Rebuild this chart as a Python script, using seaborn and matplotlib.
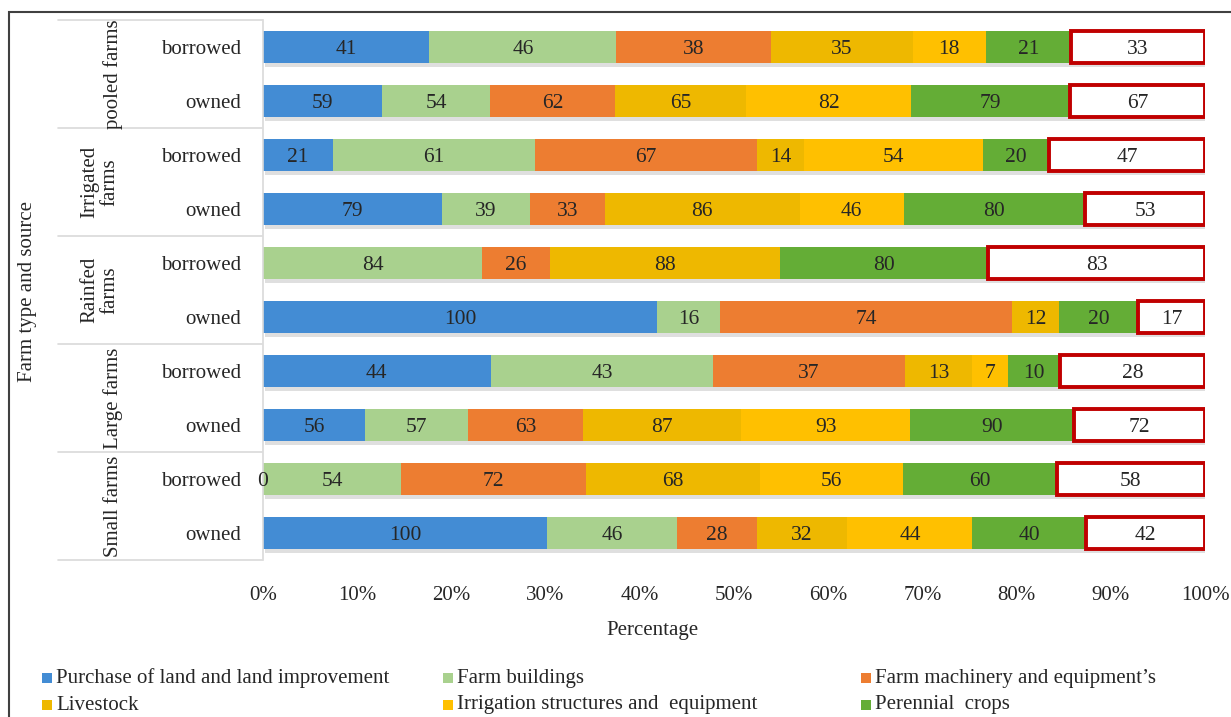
import numpy as np
import pandas as pd
import matplotlib
matplotlib.use("Agg")
import matplotlib.pyplot as plt
import matplotlib.patheffects as pe
import seaborn as sns
from matplotlib.patches import Rectangle
from matplotlib.lines import Line2D
from matplotlib.ticker import FuncFormatter

# farm type groups (top to bottom) and source within each group
groups = ["pooled farms", "Irrigated\nfarms", "Rainfed\nfarms", "Large farms", "Small farms"]
sources = ["borrowed", "owned"]

# raw values per row, top to bottom (nan = not shown)
nan = np.nan
purchase = [41, 59, 21, 79, nan, 100, 44, 56, 0, 100]
buildings = [46, 54, 61, 39, 84, 16, 43, 57, 54, 46]
machinery = [38, 62, 67, 33, 26, 74, 37, 63, 72, 28]
livestock = [35, 65, 14, 86, 88, 12, 13, 87, 68, 32]
irrigation = [18, 82, 54, 46, nan, nan, 7, 93, 56, 44]
perennial = [21, 79, 20, 80, 80, 20, 10, 90, 60, 40]
other = [33, 67, 47, 53, 83, 17, 28, 72, 58, 42]

series_names = ["Purchase of land and land improvement", "Farm buildings",
                "Farm machinery and equipment\u2019s", "Livestock",
                "Irrigation structures and  equipment", "Perennial  crops"]
colors = ["#438CD4", "#A9D18E", "#ED7D31", "#EEB800", "#FFC000", "#64AD36"]

sns.set_theme(style="white")
plt.rcParams["font.family"] = ["Liberation Serif", "DejaVu Serif"]

W, H = 1231, 717
rows = [g + " | " + s for g in groups for s in sources]
raw = pd.DataFrame({
    series_names[0]: purchase, series_names[1]: buildings,
    series_names[2]: machinery, series_names[3]: livestock,
    series_names[4]: irrigation, series_names[5]: perennial,
    "other": other}, index=rows)
share = raw.div(raw.fillna(0).sum(axis=1), axis=0) * 100

fig = plt.figure(figsize=(W / 100, H / 100), dpi=100)
ax = fig.add_axes([263 / W, 1 - 560 / H, 942 / W, 540 / H])

shadow = [pe.SimplePatchShadow(offset=(1.5, -2.5), shadow_rgbFace="#808080", alpha=0.25), pe.Normal()]

left = np.zeros(len(rows))
for col in share.columns:
    vals = share[col].fillna(0).to_numpy()
    df = pd.DataFrame({"row": rows, "share": vals})
    if col == "other":
        sns.barplot(data=df, y="row", x="share", orient="y", color="white",
                    width=0.6, left=left, errorbar=None, saturation=1,
                    edgecolor="#C00000", linewidth=2.8, ax=ax)
    else:
        c = colors[series_names.index(col)]
        sns.barplot(data=df, y="row", x="share", orient="y", color=c,
                    width=0.6, left=left, errorbar=None, saturation=1,
                    linewidth=0, ax=ax)
    for i, (v, r) in enumerate(zip(vals, raw[col])):
        if not np.isnan(r):
            ax.text(left[i] + v / 2, i, f"{r:.0f}", ha="center", va="center_baseline",
                    fontsize=15.5, color="#262626", zorder=5)
    left = left + vals

for p in ax.patches:
    p.set_path_effects(shadow)

ax.set_xlim(0, 100)
ax.set_ylim(9.5, -0.5)
ax.set_xticks(np.arange(0, 101, 10))
ax.xaxis.set_major_formatter(FuncFormatter(lambda v, p: f"{v:.0f}%"))
ax.set_yticks(range(len(rows)))
ax.set_yticklabels([s for g in groups for s in sources])
ax.tick_params(axis="both", length=0, labelsize=15, colors="#262626")
ax.tick_params(axis="y", pad=16)
ax.tick_params(axis="x", pad=19)
ax.set_xlabel("")
ax.set_ylabel("")
for s in ["top", "right", "bottom"]:
    ax.spines[s].set_visible(False)
ax.spines["left"].set_color("#D9D9D9")
ax.spines["left"].set_linewidth(1.2)

# group separators and group names
for i in range(len(groups) + 1):
    y = 1 - (20 + 108 * i) / H
    fig.add_artist(Line2D([58 / W, 262 / W], [y, y], color="#D9D9D9", lw=1.2))
for i, g in enumerate(groups):
    x = 100 if "\n" in g else 113
    fig.text(x / W, 1 - (74 + 108 * i) / H, g, rotation=90, ha="center",
             va="center", fontsize=15, color="#262626", linespacing=1.1)

fig.text(28 / W, 1 - 292 / H, "Farm type and source", rotation=90,
         ha="center", va="center", fontsize=15, color="#262626")
fig.text(652 / W, 1 - 630 / H, "Percentage", ha="center", va="center",
         fontsize=15, color="#262626")

# legend, laid out as in the original (two rows of three)
spots = [(42, 678), (443, 678), (861, 678), (42, 705), (443, 705), (861, 705)]
for (px, py), name, c in zip(spots, series_names, colors):
    fig.add_artist(Rectangle((px / W, 1 - (py + 5) / H), 10 / W, 10 / H,
                             transform=fig.transFigure, facecolor=c, lw=0))
    fig.text((px + 14) / W, 1 - py / H, name, ha="left", va="center",
             fontsize=15, color="#262626")

# outer frame
fig.add_artist(Rectangle((9 / W, -0.1), 1.2, 1.1 - 12 / H, transform=fig.transFigure,
                         fill=False, edgecolor="#404040", lw=1.5))

fig.savefig("out.png", dpi=100, facecolor="white")
